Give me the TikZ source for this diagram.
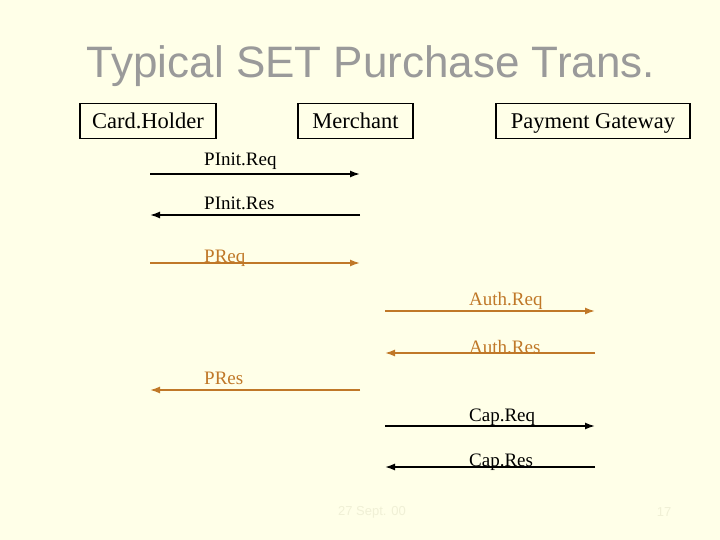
\documentclass[tikz,border=0pt]{standalone}
\usepackage{fontspec}
\setmainfont{Liberation Serif}
\newfontfamily\arial{Liberation Sans}
\usetikzlibrary{arrows.meta}
\definecolor{bg}{HTML}{FFFFE8}
\definecolor{ttl}{HTML}{9A9A9A}
\definecolor{org}{HTML}{C07828}
\definecolor{faint}{HTML}{F0F0D6}
\tikzset{
 party/.style={draw=black,line width=1.2pt,font=\fontsize{22.5}{26}\selectfont,inner sep=0pt,minimum height=35pt,text height=16pt,text depth=0pt},
 msg/.style={line width=1.6pt,-{Latex[length=10pt,width=7pt]}},
 lbl/.style={font=\fontsize{19}{22}\selectfont,anchor=base west,inner sep=0pt},
}
\begin{document}
\begin{tikzpicture}[x=1pt,y=-1pt]
\fill[bg] (0,0) rectangle (720,540);
\useasboundingbox (0,0) rectangle (720,540);
\node[font=\arial\fontsize{44}{50}\selectfont,text=ttl] (title) at (371,66) {Typical SET Purchase Trans.};
\node[party,minimum width=136pt] (ch) at (148,121) {Card.Holder};
\node[party,minimum width=115pt] (me) at (355.5,121) {Merchant};
\node[party,minimum width=194pt] (pg) at (593,121) {Payment Gateway};
\coordinate (a1) at (150,174); \coordinate (b1) at (360,174);
\coordinate (a2) at (150,215); \coordinate (b2) at (360,215);
\coordinate (a3) at (150,263); \coordinate (b3) at (360,263);
\coordinate (a4) at (385,311); \coordinate (b4) at (595,311);
\coordinate (a5) at (385,353); \coordinate (b5) at (595,353);
\coordinate (a6) at (150,390); \coordinate (b6) at (360,390);
\coordinate (a7) at (385,426); \coordinate (b7) at (595,426);
\coordinate (a8) at (385,467); \coordinate (b8) at (595,467);
\draw[msg] (a1) -- (b1);
\draw[msg] (b2) -- (a2);
\draw[msg,org] (a3) -- (b3);
\draw[msg,org] (a4) -- (b4);
\draw[msg,org] (b5) -- (a5);
\draw[msg,org] (b6) -- (a6);
\draw[msg] (a7) -- (b7);
\draw[msg] (b8) -- (a8);
\node[lbl] (l1) at (204,166) {PInit.Req};
\node[lbl] (l2) at (204,210) {PInit.Res};
\node[lbl,text=org] (l3) at (204,262) {PReq};
\node[lbl,text=org] (l4) at (469,305) {Auth.Req};
\node[lbl,text=org] (l5) at (469,353) {Auth.Res};
\node[lbl,text=org] (l6) at (204,384) {PRes};
\node[lbl] (l7) at (469,421) {Cap.Req};
\node[lbl] (l8) at (469,466) {Cap.Res};
\node[font=\arial\fontsize{13}{15}\selectfont,text=faint] (f1) at (372,512) {27 Sept. 00};
\node[font=\arial\fontsize{13}{15}\selectfont,text=faint] (f2) at (664,512) {17};
\end{tikzpicture}
\end{document}
